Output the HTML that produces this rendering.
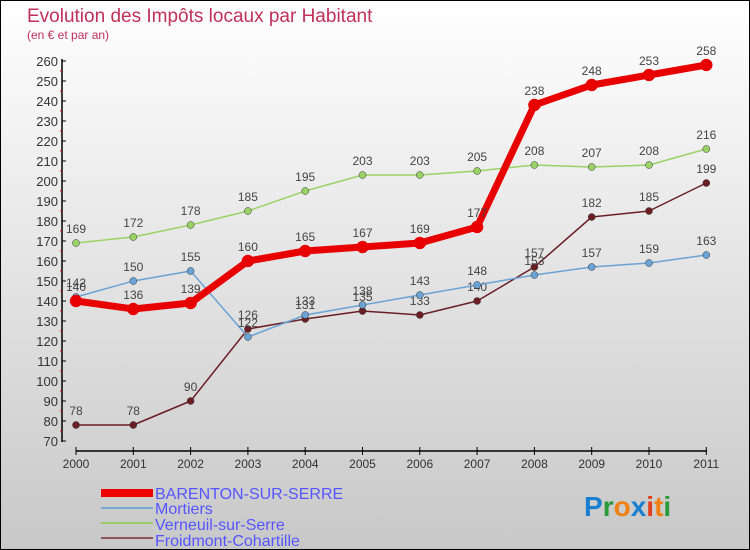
<!DOCTYPE html>
<html><head><meta charset="utf-8"><style>
body{margin:0}
#c{width:748px;height:548px;border:1px solid #000;background:linear-gradient(#fff,#c8c8c8);position:relative;overflow:hidden;font-family:"Liberation Sans",sans-serif}
</style></head><body>
<div id="c">
<svg id="s" width="748" height="548" style="position:absolute;left:0;top:0">
<text x="26" y="21" font-size="19" fill="#c0305a">Evolution des Impôts locaux par Habitant</text>
<text x="26" y="38" font-size="12" fill="#c0305a">(en € et par an)</text>
<g id="axes"></g><g id="series"></g>
<g>
<rect x="100" y="488" width="52" height="8" fill="#e00"/>
<text x="154" y="498" font-size="16" fill="#55f">BARENTON-SUR-SERRE</text>
<line x1="100" y1="507" x2="152" y2="507" stroke="#79a7d0" stroke-width="2"/>
<text x="154" y="513" font-size="16" fill="#55f">Mortiers</text>
<line x1="100" y1="522" x2="152" y2="522" stroke="#9acd6a" stroke-width="2"/>
<text x="154" y="529" font-size="16" fill="#55f">Verneuil-sur-Serre</text>
<line x1="100" y1="537" x2="152" y2="537" stroke="#8a5555" stroke-width="2"/>
<text x="154" y="545" font-size="16" fill="#55f">Froidmont-Cohartille</text>
</g>
<text x="583" y="515" font-size="28" font-weight="bold"><tspan fill="#1a7fd0">P</tspan><tspan fill="#2a9a3a">r</tspan><tspan fill="#f08010">o</tspan><tspan fill="#1a7fd0">x</tspan><tspan fill="#e04020">i</tspan><tspan fill="#f08010">t</tspan><tspan fill="#2a9a3a">i</tspan></text>
</svg></div>
<script>
const years=[2000,2001,2002,2003,2004,2005,2006,2007,2008,2009,2010,2011];
const barenton=[140,136,139,160,165,167,169,177,238,248,253,258];
const mortiers=[142,150,155,122,133,138,143,148,153,157,159,163];
const verneuil=[169,172,178,185,195,203,203,205,208,207,208,216];
const froidmont=[78,78,90,126,131,135,133,140,157,182,185,199];
const yTicks=[70,80,90,100,110,120,130,140,150,160,170,180,190,200,210,220,230,240,250,260];
const NS="http://www.w3.org/2000/svg";
const X=i=>75+i*57.3;
const Y=v=>440-(v-70)*2;
function mk(t,a,p){const e=document.createElementNS(NS,t);for(const k in a)e.setAttribute(k,a[k]);p.appendChild(e);return e;}
const ax=document.getElementById('axes');
let l=mk('line',{x1:61,y1:58,x2:61,y2:441,stroke:'#000','stroke-width':1.5},ax);


yTicks.forEach(v=>{
 mk('line',{x1:61,y1:Y(v),x2:65,y2:Y(v),stroke:'#000'},ax);
 if(v<260)mk('line',{x1:59,y1:Y(v+5),x2:61,y2:Y(v+5),stroke:'#e00'},ax);
 const t=mk('text',{x:57,y:Y(v)+5,'font-size':13,fill:'#333','text-anchor':'end'},ax);t.textContent=v;
 
 
});
l=mk('line',{x1:75,y1:450,x2:706,y2:450,stroke:'#000','stroke-width':1.5},ax);


years.forEach((y,i)=>{
 mk('line',{x1:X(i),y1:446,x2:X(i),y2:454,stroke:'#000'},ax);
 const t=mk('text',{x:X(i),y:467,'font-size':12,fill:'#333','text-anchor':'middle'},ax);t.textContent=y;
 
 
});
const sg=document.getElementById('series');
function draw(data,color,w,r,name){
 const g=mk('g',{},sg);
 
 
 mk('polyline',{points:data.map((v,i)=>X(i)+','+Y(v)).join(' '),fill:'none',stroke:color,'stroke-width':w,'stroke-linejoin':'round'},g);
 data.forEach((v,i)=>{
  const c=mk('circle',{cx:X(i),cy:Y(v),r:r,fill:color,stroke:w>3?color:'#333','stroke-width':0.5},g);
  
  
  const t=mk('text',{x:X(i),y:Y(v)-10,'font-size':12,fill:'#444','text-anchor':'middle'},g);t.textContent=v;
  
  
 });
}
draw(froidmont,'#6b1f25',1.5,3.5,'froidmont');
draw(verneuil,'#99d366',1.5,3.5,'verneuil');
draw(mortiers,'#6aa3d5',1.5,3.5,'mortiers');
draw(barenton,'#e80000',7,6,'barenton');
</script>
</body></html>
